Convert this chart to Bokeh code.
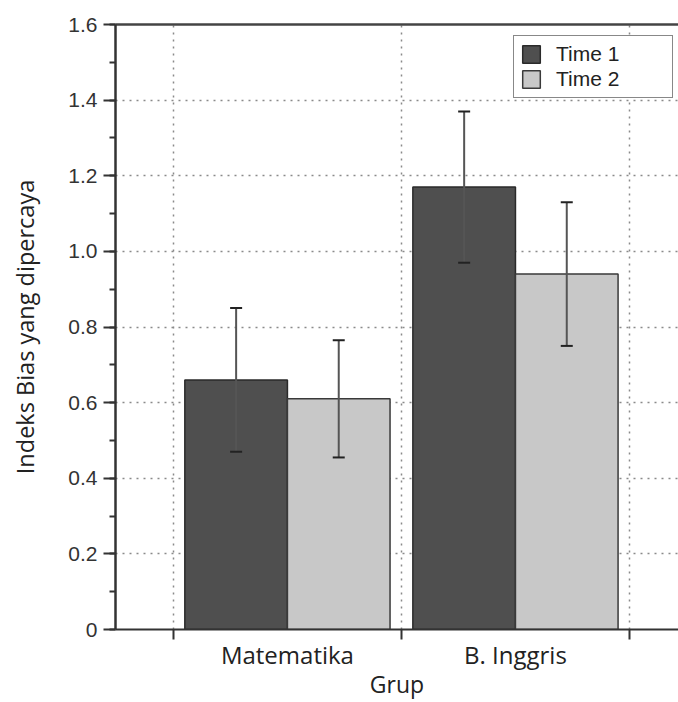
from bokeh.plotting import figure
from bokeh.models import (ColumnDataSource, Whisker, TeeHead, FixedTicker, LinearAxis,
                          Legend, LegendItem, Range1d, SingleIntervalTicker,
                          PrintfTickFormatter)
from bokeh.embed import file_html
from bokeh.resources import INLINE

# Data
groups = ["Matematika", "B. Inggris"]
series = ["Time 1", "Time 2"]
time1 = [0.66, 1.17]
time2 = [0.61, 0.94]
time1_err = [0.19, 0.20]
time2_err = [0.155, 0.19]
y_ticks_step = 0.2

DARK = "#4f4f4f"
LIGHT = "#c8c8c8"
INK = "#222222"
TICK_FONT = "Liberation Sans"
LABEL_FONT = "Open Sans"

p = figure(width=678, height=702,
           x_range=Range1d(-0.254, 2.215), y_range=Range1d(0, 1.6),
           output_backend="svg", toolbar_location=None,
           min_border_left=115, min_border_right=0,
           min_border_top=24, min_border_bottom=72)
p.outline_line_color = None
p.background_fill_color = "white"

# bar positions: each group occupies one unit, two bars side by side
bar_w = 0.45
idx = list(range(len(groups)))
x1 = [i + 0.5 - bar_w / 2 for i in idx]
x2 = [i + 0.5 + bar_w / 2 for i in idx]

src1 = ColumnDataSource(dict(x=x1, top=time1,
                             upper=[v + e for v, e in zip(time1, time1_err)],
                             lower=[v - e for v, e in zip(time1, time1_err)]))
src2 = ColumnDataSource(dict(x=x2, top=time2,
                             upper=[v + e for v, e in zip(time2, time2_err)],
                             lower=[v - e for v, e in zip(time2, time2_err)]))

r1 = p.vbar(x="x", top="top", width=bar_w, source=src1,
            fill_color=DARK, line_color="#2a2a2a", line_width=1.5)
r2 = p.vbar(x="x", top="top", width=bar_w, source=src2,
            fill_color=LIGHT, line_color="#3a3a3a", line_width=1.5)

for src in (src1, src2):
    w = Whisker(source=src, base="x", upper="upper", lower="lower",
                line_color="#555555", line_width=2, level="overlay",
                upper_head=TeeHead(size=12, line_color=INK, line_width=2),
                lower_head=TeeHead(size=12, line_color=INK, line_width=2))
    p.add_layout(w)

# y axis
yax = p.yaxis[0]
yax.ticker = SingleIntervalTicker(interval=y_ticks_step, num_minor_ticks=2)
yax.formatter = PrintfTickFormatter(format="%.1f")
yax.major_label_overrides = {0: "0"}
yax.axis_label = "Indeks Bias yang dipercaya"
yax.axis_label_text_font = LABEL_FONT
yax.axis_label_text_font_style = "normal"
yax.axis_label_text_font_size = "23.5px"
yax.axis_label_text_color = INK
yax.axis_label_standoff = 24
yax.major_label_text_font = TICK_FONT
yax.major_label_text_font_size = "21px"
yax.major_label_text_color = "#333333"
yax.major_label_standoff = 6
yax.axis_line_width = 2.5
yax.axis_line_color = "#333333"
yax.major_tick_line_width = 2
yax.major_tick_line_color = "#333333"
yax.major_tick_out = 12
yax.major_tick_in = 0
yax.minor_tick_line_width = 2
yax.minor_tick_line_color = "#333333"
yax.minor_tick_out = 6
yax.minor_tick_in = 0

# x axis: group boundaries as tick marks, group names in the middle
xax = p.xaxis[0]
xax.ticker = FixedTicker(ticks=[i + 0.5 for i in idx],
                         minor_ticks=list(range(len(groups) + 1)))
xax.major_label_overrides = {i + 0.5: g for i, g in zip(idx, groups)}
xax.major_tick_line_color = None
xax.major_tick_out = 0
xax.major_tick_in = 0
xax.minor_tick_line_width = 2
xax.minor_tick_line_color = "#333333"
xax.minor_tick_out = 10
xax.minor_tick_in = 0
xax.major_label_standoff = -2
xax.major_label_text_font = LABEL_FONT
xax.major_label_text_font_size = "24px"
xax.major_label_text_color = INK
xax.axis_label = "Grup"
xax.axis_label_text_font = LABEL_FONT
xax.axis_label_text_font_style = "normal"
xax.axis_label_text_font_size = "23px"
xax.axis_label_text_color = INK
xax.axis_label_standoff = -6
xax.axis_line_width = 2
xax.axis_line_color = "#333333"

# top frame line
top = LinearAxis(ticker=FixedTicker(ticks=[]), axis_line_width=2.5,
                 axis_line_color="#444444", major_label_text_font_size="0px",
                 major_tick_line_color=None, minor_tick_line_color=None)
p.add_layout(top, "above")

# dotted grid
p.xgrid.ticker = FixedTicker(ticks=list(range(len(groups) + 1)))
p.ygrid.ticker = SingleIntervalTicker(interval=y_ticks_step)
for g in (p.xgrid[0], p.ygrid[0]):
    g.grid_line_color = "#8a8a8a"
    g.grid_line_dash = "2 5"
    g.grid_line_width = 1.5

legend = Legend(items=[LegendItem(label=series[0], renderers=[r1]),
                       LegendItem(label=series[1], renderers=[r2])],
                location=(398, 531))
legend.border_line_color = "#111111"
legend.border_line_width = 1.5
legend.background_fill_alpha = 1
legend.label_text_font = TICK_FONT
legend.label_text_font_size = "21px"
legend.label_text_color = INK
legend.glyph_width = 22
legend.glyph_height = 22
legend.label_height = 22
legend.label_standoff = 14
legend.label_width = 110
legend.padding = 6
legend.spacing = 1
legend.margin = 0
p.add_layout(legend)

open("out.html", "w").write(file_html(p, INLINE))
